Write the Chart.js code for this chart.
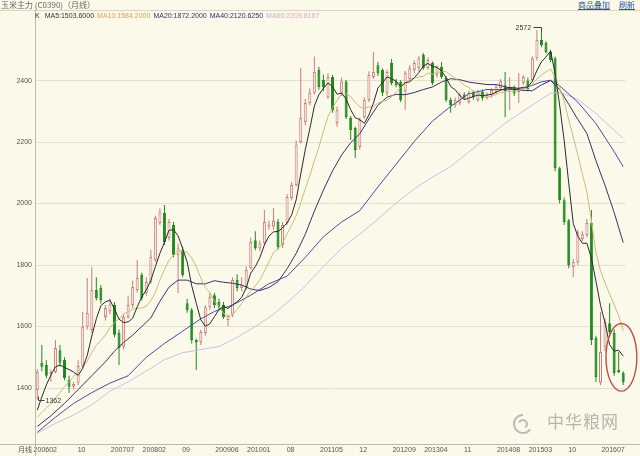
<!DOCTYPE html>
<html>
<head>
<meta charset="utf-8">
<script src="https://cdn.jsdelivr.net/npm/chart.js@4.4.1/dist/chart.umd.min.js"></script>
<style>
  html, body { margin: 0; padding: 0; background: #fbf9ea; }
  #wrap { position: relative; width: 640px; height: 456px; overflow: hidden; font-family: "Liberation Sans", Arial, sans-serif; }
  #c { position: absolute; left: 0; top: 0; }
  .txt { position: absolute; white-space: nowrap; line-height: 1; }
  .hline { position: absolute; left: 0; width: 640px; height: 1px; }
  .vline { position: absolute; width: 1px; }
  .cjk { font-family: "Noto Sans CJK SC", sans-serif; }
  #title { left: 1px; top: 1px; font-size: 8px; color: #666; }
  .link { top: 1px; font-size: 8px; color: #2a55a8; text-decoration: underline; }
  #legend { left: 35px; top: 12px; font-size: 7px; color: #333; }
  #legend span { margin-right: 3px; }
  #period { left: 18px; top: 446px; font-size: 7px; color: #555; }
  #mark { left: 547px; top: 412px; font-size: 17px; color: #b9b6a8; letter-spacing: 1px; }
  .note { font-size: 7px; color: #333; }
</style>
</head>
<body>
<div id="wrap">
  <canvas id="c" width="640" height="456"></canvas>
  <div class="hline" style="top:10px;background:#d9d5c2"></div>
  <div class="hline" style="top:444px;background:#bdb9ab"></div>
  <div class="vline" style="left:35px;top:10px;height:446px;background:#bdb9ab"></div>
  <div id="title" class="txt cjk">玉米主力 (C0390)（月线）</div>
  <div class="txt cjk link" style="left:578px">商品叠加</div>
  <div class="txt cjk link" style="left:619px">刷新</div>
  <div id="legend" class="txt"><span>K</span> <span>MA5:1503.6000</span><span style="color:#d2a45c">MA10:1584.2000</span><span style="color:#3a3358">MA20:1872.2000</span><span style="color:#2e2e6e">MA40:2120.6250</span><span style="color:#d9a9c9">MA60:2209.8167</span></div>
  <div id="period" class="txt cjk">月线</div>
  <div id="mark" class="txt cjk">中华粮网</div>
  <div id="hiNote" class="txt note">2572</div>
  <div id="loNote" class="txt note">1362</div>
</div>
<script>
// monthly bars 2006-02 .. 2016-11
const months = [];
for (let y = 2006, m = 2; months.length < 130; m++) {
  if (m > 12) { m = 1; y++; }
  months.push(String(y) + String(m).padStart(2, '0'));
}

const tickMonths = ['200602','200610','200707','200802','200809','200906','201001','201008','201105',
  '201112','201209','201304','201311','201408','201503','201510','201607'];
const tickTexts = ['200602','10','200707','200802','09','200906','201001','08','201105',
  '12','201209','201304','11','201408','201503','10','201607'];
const yTicks = [1400, 1600, 1800, 2000, 2200, 2400];

const open = [
  1394,1482,1475,1445,1452,1523,1491,1426,1404,1417,
  1472,1599,1589,1719,1725,1631,1650,1670,1579,1534,
  1631,1670,1719,1768,1709,1745,1816,1937,1969,1888,
  1930,1833,1849,1676,1654,1556,1550,1579,1663,1702,
  1680,1670,1621,1638,1751,1725,1729,1790,1881,1855,
  1872,1925,1925,1940,1865,1937,2018,2060,2200,2265,
  2327,2360,2434,2402,2346,2412,2262,2360,2397,2278,
  2246,2184,2281,2337,2412,2450,2434,2360,2457,2397,
  2395,2365,2405,2434,2441,2483,2441,2457,2418,2444,
  2408,2337,2320,2327,2355,2330,2360,2337,2363,2343,
  2353,2363,2375,2385,2372,2378,2363,2392,2400,2402,
  2473,2532,2522,2493,2473,2115,2011,1946,1794,1810,
  1885,1898,1937,1563,1417,1534,1611,1579,1459,1450
];
const high = [
  1462,1540,1490,1460,1556,1540,1500,1440,1420,1490,
  1648,1758,1794,1760,1735,1670,1690,1680,1590,1640,
  1700,1750,1816,1775,1760,1850,1960,1985,1995,1950,
  1940,1870,1860,1690,1660,1560,1590,1670,1710,1710,
  1690,1680,1640,1760,1770,1760,1795,1890,1910,1880,
  1979,1945,1985,1950,1940,2030,2070,2205,2441,2340,
  2375,2478,2445,2420,2425,2418,2315,2410,2402,2285,
  2250,2280,2345,2430,2493,2460,2440,2435,2470,2405,
  2402,2432,2450,2465,2480,2490,2475,2462,2450,2460,
  2415,2345,2345,2360,2362,2368,2368,2370,2370,2362,
  2375,2388,2405,2428,2411,2385,2424,2418,2410,2478,
  2564,2572,2528,2500,2478,2120,2020,1950,1820,1915,
  1910,1950,1979,1570,1647,1625,1676,1590,1517,1455
];
const low = [
  1362,1455,1432,1420,1448,1470,1425,1384,1395,1410,
  1465,1590,1580,1685,1675,1620,1640,1565,1475,1525,
  1625,1660,1710,1685,1700,1740,1810,1930,1865,1880,
  1825,1709,1760,1645,1545,1459,1540,1570,1655,1660,
  1655,1625,1600,1630,1715,1715,1720,1785,1848,1845,
  1865,1915,1915,1850,1855,1930,2010,2055,2195,2255,
  2320,2355,2370,2365,2340,2295,2250,2350,2275,2207,
  2148,2175,2275,2330,2405,2415,2350,2350,2385,2378,
  2330,2304,2398,2425,2430,2435,2435,2385,2410,2405,
  2330,2295,2312,2320,2338,2325,2338,2330,2335,2338,
  2345,2356,2368,2281,2304,2350,2327,2385,2365,2395,
  2465,2508,2488,2460,2105,2000,1930,1790,1761,1800,
  1878,1890,1540,1420,1410,1520,1575,1440,1448,1410
];
const close = [
  1453,1469,1440,1452,1530,1482,1433,1404,1413,1472,
  1599,1644,1719,1693,1686,1660,1672,1573,1530,1631,
  1670,1729,1758,1693,1745,1826,1953,1972,1875,1940,
  1833,1855,1768,1654,1556,1548,1582,1663,1696,1670,
  1663,1631,1634,1751,1725,1735,1784,1875,1855,1870,
  1940,1930,1945,1859,1930,2021,2060,2190,2278,2327,
  2360,2428,2379,2379,2412,2304,2304,2397,2281,2239,
  2174,2272,2337,2418,2428,2424,2360,2428,2392,2385,
  2337,2425,2440,2457,2473,2441,2467,2392,2444,2412,
  2337,2320,2337,2353,2345,2360,2346,2363,2343,2353,
  2369,2380,2398,2366,2378,2358,2376,2412,2372,2473,
  2532,2515,2493,2467,2115,2011,1940,1800,1810,1907,
  1900,1937,1556,1436,1517,1615,1582,1449,1452,1420
];

// moving-average lines
const ma5 = [
  1328,1371,1410,1442,1469,1475,1467,1460,1452,1441,
  1464,1506,1569,1625,1668,1680,1686,1657,1624,1613,
  1615,1627,1664,1696,1719,1750,1795,1838,1874,1913,
  1915,1895,1854,1810,1733,1676,1622,1601,1609,1632,
  1655,1665,1659,1670,1681,1695,1726,1774,1795,1824,
  1865,1894,1908,1909,1921,1937,1963,2012,2096,2175,
  2243,2317,2354,2375,2392,2380,2356,2359,2340,2305,
  2279,2273,2261,2288,2326,2376,2393,2412,2406,2398,
  2380,2393,2396,2409,2426,2447,2456,2446,2443,2431,
  2410,2381,2370,2352,2338,2343,2348,2353,2351,2353,
  2355,2362,2369,2373,2378,2376,2375,2378,2379,2398,
  2433,2461,2477,2496,2424,2320,2205,2067,1935,1894,
  1871,1871,1822,1747,1669,1612,1541,1520,1523,1504
];
const ma10 = [
  1305,1320,1335,1350,1368,1385,1405,1420,1438,1455,
  1469,1487,1515,1539,1555,1572,1596,1613,1625,1641,
  1648,1656,1660,1660,1666,1683,1711,1751,1785,1816,
  1832,1845,1846,1842,1823,1795,1758,1727,1710,1683,
  1666,1643,1630,1639,1656,1675,1695,1716,1732,1752,
  1780,1810,1841,1852,1872,1901,1929,1960,2002,2048,
  2090,2140,2183,2235,2283,2312,2336,2357,2357,2348,
  2330,2314,2310,2314,2315,2327,2333,2336,2347,2362,
  2378,2393,2404,2408,2412,2414,2425,2421,2426,2429,
  2429,2418,2408,2398,2385,2377,2365,2362,2352,2346,
  2349,2355,2361,2362,2366,2365,2368,2373,2376,2388,
  2405,2418,2428,2438,2411,2377,2333,2272,2216,2159,
  2096,2038,1944,1841,1781,1742,1706,1671,1635,1586
];
// [month index, value]
const ma20 = [[0,1275],[3,1310],[6,1350],[9,1395],[12,1440],[15,1485],[17,1520],[19,1548],[21,1572],[23,1600],
  [25,1628],[27,1682],[29,1728],[31,1751],[33,1751],[35,1739],[37,1739],[39,1749],[41,1744],[43,1741],
  [45,1735],[47,1722],[49,1717],[51,1727],[53,1746],[55,1788],[57,1838],[59,1900],[61,1975],[63,2044],
  [65,2106],[67,2158],[69,2198],[71,2227],[73,2275],[75,2320],[77,2346],[79,2355],[81,2354],[83,2361],
  [85,2371],[87,2379],[89,2395],[91,2406],[93,2403],[95,2395],[97,2391],[99,2387],[101,2387],[103,2380],
  [105,2371],[107,2368],[109,2367],[111,2386],[113,2400],[115,2371],[117,2323],[119,2274],[121,2228],[123,2139],
  [125,2059],[127,1971],[129,1873]];
const ma40 = [[0,1256],[4,1305],[8,1350],[12,1385],[16,1416],[20,1440],[24,1500],[28,1545],[32,1585],[36,1625],
  [39,1649],[43,1670],[47,1702],[51,1739],[55,1764],[59,1825],[63,1892],[67,1940],[71,1977],[75,2054],
  [79,2128],[83,2202],[87,2268],[91,2316],[95,2357],[99,2371],[103,2370],[107,2373],[111,2396],[113,2401],
  [115,2383],[119,2330],[123,2260],[127,2169],[129,2120]];
const ma60 = [[0,1253],[4,1285],[8,1312],[12,1345],[16,1390],[20,1420],[24,1455],[28,1492],[32,1515],[36,1525],
  [40,1535],[44,1565],[48,1600],[52,1640],[56,1690],[59,1732],[63,1795],[67,1854],[71,1901],[75,1949],
  [79,2002],[83,2048],[87,2086],[91,2120],[95,2168],[99,2214],[103,2261],[107,2301],[111,2340],[113,2359],
  [115,2362],[119,2339],[123,2293],[127,2239],[129,2212]];

const BG = '#fbf9ea';
const UP = '#c97b7b';
const DOWN = '#1f8a1f';

function spread(pairs) {
  const arr = months.map(() => null);
  pairs.forEach(([i, v]) => { arr[i] = v; });
  return arr;
}
const isUp = close.map((c, i) => c >= open[i]);

function maLine(label, data, color) {
  return {
    type: 'line', label, data, borderColor: color, borderWidth: 1,
    pointRadius: 0, spanGaps: true, tension: 0, order: 1
  };
}

const notes = {
  id: 'notes',
  afterDatasetsDraw(chart) {
    const { ctx, scales: { x, y } } = chart;
    const hiIdx = high.indexOf(Math.max(...high));
    const loIdx = low.indexOf(Math.min(...low));
    const step = x.getPixelForValue(1) - x.getPixelForValue(0);
    ctx.save();
    ctx.strokeStyle = '#444';
    ctx.lineWidth = 1;
    // highest bar
    let px = Math.round(x.getPixelForValue(hiIdx)) + 0.5;
    let py = Math.round(y.getPixelForValue(high[hiIdx])) + 0.5;
    ctx.beginPath();
    ctx.moveTo(px - 8, py - 1); ctx.lineTo(px, py - 1); ctx.lineTo(px, py + 3);
    ctx.stroke();
    const hn = document.getElementById('hiNote');
    hn.style.left = (px - 8 - 18) + 'px';
    hn.style.top = (py - 5) + 'px';
    // lowest bar
    px = Math.round(x.getPixelForValue(loIdx)) + 0.5;
    py = Math.round(y.getPixelForValue(low[loIdx])) + 0.5;
    ctx.beginPath();
    ctx.moveTo(px + 1, py - 4); ctx.lineTo(px + 1, py); ctx.lineTo(px + 7, py);
    ctx.stroke();
    const ln = document.getElementById('loNote');
    ln.style.left = (px + 8) + 'px';
    ln.style.top = (py - 4) + 'px';
    // red ring round the last months
    const last = months.length - 1;
    const cx = x.getPixelForValue(last - 1) + step * 0.6;
    const cy = y.getPixelForValue(1500);
    const ry = y.getPixelForValue(1390) - cy;
    ctx.strokeStyle = '#b9504a';
    ctx.lineWidth = 1.4;
    ctx.beginPath();
    ctx.ellipse(cx, cy, step * 3.4, ry, 0, 0, Math.PI * 2);
    ctx.stroke();
    // watermark swirl
    ctx.strokeStyle = '#bdbaae';
    ctx.lineWidth = 2;
    ctx.beginPath();
    ctx.arc(523, 424, 9, Math.PI * 0.2, Math.PI * 1.5);
    ctx.stroke();
    ctx.beginPath();
    ctx.arc(523, 424, 4, Math.PI * 1.1, Math.PI * 2.3);
    ctx.stroke();
    ctx.restore();
  }
};

new Chart(document.getElementById('c'), {
  data: {
    labels: months,
    datasets: [
      maLine('MA5', ma5, '#2a2a2a'),
      maLine('MA10', ma10, '#cdbb78'),
      maLine('MA20', spread(ma20), '#3b3066'),
      maLine('MA40', spread(ma40), '#4a4aa0'),
      maLine('MA60', spread(ma60), '#c9c0e2'),
      {
        type: 'bar', label: 'body', data: open.map((o, i) => [o, close[i]]),
        backgroundColor: isUp.map(u => u ? BG : DOWN),
        borderColor: isUp.map(u => u ? UP : DOWN),
        borderWidth: 1, borderSkipped: false, barThickness: 3, minBarLength: 1,
        grouped: false, inflateAmount: 0, order: 2
      },
      {
        type: 'bar', label: 'wick', data: low.map((l, i) => [l, high[i]]),
        backgroundColor: isUp.map(u => u ? UP : DOWN),
        barThickness: 1, grouped: false, inflateAmount: 0, order: 3
      }
    ]
  },
  options: {
    responsive: false,
    animation: false,
    devicePixelRatio: 1,
    layout: { padding: { top: 20, right: 14.5, left: 0, bottom: 0 } },
    plugins: { legend: { display: false }, tooltip: { enabled: false } },
    scales: {
      x: {
        type: 'category', offset: true,
        grid: { display: false, drawTicks: false }, border: { display: false },
        afterFit(s) { s.height = 12; },
        ticks: {
          autoSkip: false, maxRotation: 0, padding: 2, labelOffset: 8,
          color: '#555', font: { family: 'Liberation Sans', size: 7 },
          callback(v, i) {
            const k = tickMonths.indexOf(months[i]);
            return k >= 0 ? tickTexts[k] : '';
          }
        }
      },
      y: {
        min: 1218, max: 2597,
        afterFit(s) { s.width = 35; },
        afterBuildTicks(s) { s.ticks = yTicks.map(v => ({ value: v })); },
        grid: { color: '#e4e0cd', drawTicks: false }, border: { display: false },
        ticks: { padding: 3, color: '#555', font: { family: 'Liberation Sans', size: 7 }, callback: v => String(v) }
      }
    }
  },
  plugins: [notes]
});
</script>
</body>
</html>
